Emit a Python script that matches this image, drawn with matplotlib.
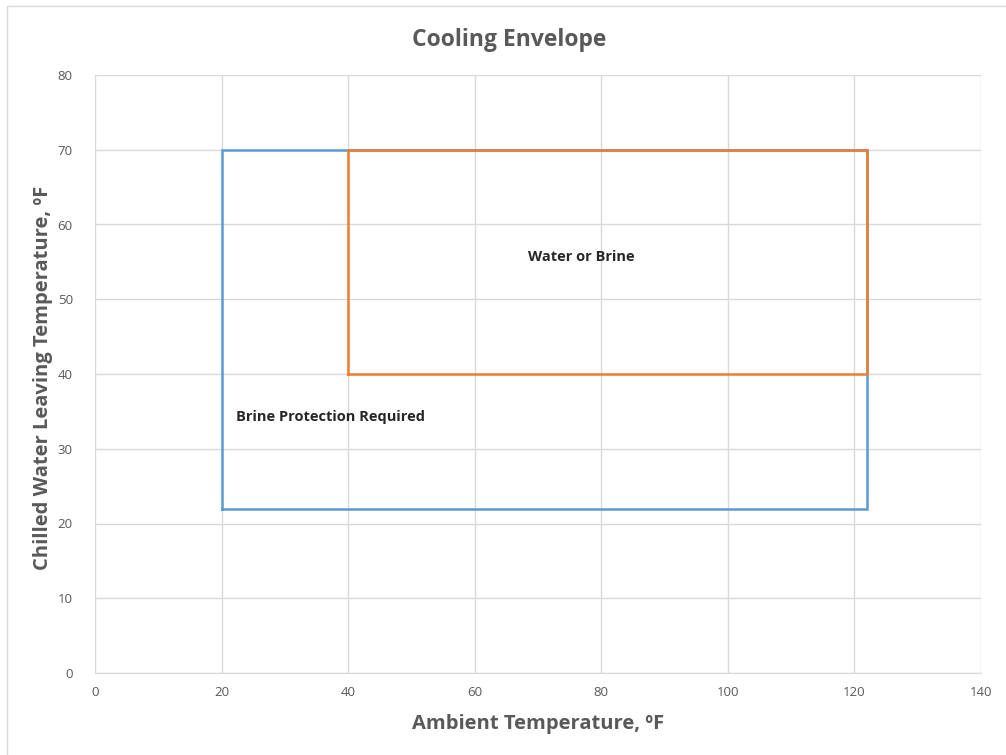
# Cooling envelope chart: operating region of chilled water temperature
# versus ambient temperature, drawn as two outlined boxes.

import matplotlib.pyplot as plt
from matplotlib.patches import Rectangle

plt.rcParams['font.family'] = ['Open Sans', 'DejaVu Sans']

# Brine protection region (outer box)
brine_x = [20, 20, 122, 122, 20]
brine_y = [22, 70, 70, 22, 22]

# Water or brine region (inner box)
water_x = [40, 40, 122, 122, 40]
water_y = [40, 70, 70, 40, 40]

xticks = [0, 20, 40, 60, 80, 100, 120, 140]
yticks = [0, 10, 20, 30, 40, 50, 60, 70, 80]

grey = "#595959"
gridc = "#D9D9D9"

fig = plt.figure(figsize=(10.06, 7.55), dpi=100)
ax = fig.add_axes([95/1006, 1 - 673/755, (981 - 95)/1006, (673 - 75)/755])

ax.plot(brine_x, brine_y, color="#5B9BD5", lw=1.8, solid_joinstyle="miter")
ax.plot(water_x, water_y, color="#ED7D31", lw=1.8, solid_joinstyle="miter")

ax.text(22.3, 34.3, "Brine Protection Required", fontsize=10.5, fontweight="bold",
        color="#262626", va="center", ha="left")
ax.text(68.4, 55.7, "Water or Brine", fontsize=10.5, fontweight="bold",
        color="#262626", va="center", ha="left")

ax.set_xlim(0, 140)
ax.set_ylim(0, 80)
ax.set_xticks(xticks)
ax.set_yticks(yticks)
ax.grid(True, color=gridc, lw=1)
ax.set_axisbelow(True)
for side in ["top", "right", "left"]:
    ax.spines[side].set_visible(False)
ax.spines["bottom"].set_color(gridc)
ax.tick_params(length=0, labelsize=9.5, colors=grey, pad=9)
ax.tick_params(axis="y", pad=16)

ax.set_xlabel("Ambient Temperature, ºF", fontsize=14.5, fontweight="bold",
              color=grey)
ax.xaxis.set_label_coords(0.5, -41/598)
ax.set_ylabel("Chilled Water Leaving Temperature, ºF", fontsize=14.5,
              fontweight="bold", color=grey)
ax.yaxis.set_label_coords(-42/886, (673 - 378)/598)
fig.text(509/1006, 1 - 40/755, "Cooling Envelope", fontsize=16.5,
         fontweight="bold", color=grey, ha="center", va="center")

# light frame around the chart area
fig.patches.append(Rectangle((7/1006, -0.1), 1.2, 1 - 6/755 + 0.1,
                             transform=fig.transFigure, fill=False,
                             edgecolor=gridc, lw=1))

fig.savefig("out.png", dpi=100)
